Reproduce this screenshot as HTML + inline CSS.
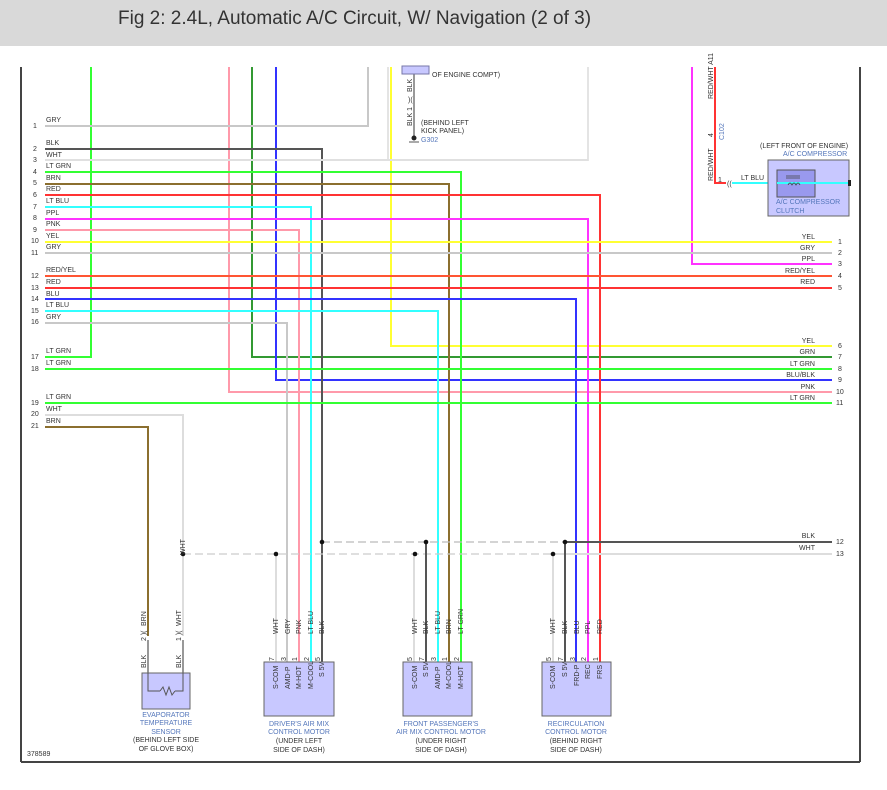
<!DOCTYPE html>
<html><head><meta charset="utf-8"><style>
html,body{margin:0;padding:0;background:#fff;width:887px;height:790px;overflow:hidden}
.hdr{position:absolute;left:0;top:0;width:887px;height:46px;background:#d9d9d9}
.hdr span{position:absolute;left:118px;top:8px;font:19px "Liberation Sans",sans-serif;color:#333}
svg{position:absolute;left:0;top:0}
text{font-family:"Liberation Sans",sans-serif;font-size:7px;fill:#333}
.b{fill:#5577bb}
</style></head><body>
<div class="hdr"><span>Fig 2: 2.4L, Automatic A/C Circuit, W/ Navigation (2 of 3)</span></div>
<svg width="887" height="790" viewBox="0 0 887 790">
<g fill="none" stroke-width="2">
<line x1="21" y1="67" x2="21" y2="762" stroke="#444" stroke-width="2"/>
<line x1="860" y1="67" x2="860" y2="762" stroke="#444" stroke-width="2"/>
<line x1="21" y1="762" x2="860" y2="762" stroke="#444" stroke-width="2"/>
<polyline points="388,67 388,160 588,160 588,67" stroke="#e4e4e4"/>
<!-- vertical from top -->
<polyline points="91,67 91,357 45,357" stroke="#33ff33"/>
<polyline points="229,67 229,392 832,392" stroke="#ff99aa"/>
<polyline points="252,67 252,357 832,357" stroke="#339933"/>
<polyline points="276,67 276,380 832,380" stroke="#3333ff"/>
<polyline points="391,67 391,346 832,346" stroke="#ffff33"/>
<polyline points="45,126 368,126 368,67" stroke="#c8c8c8"/>
<polyline points="692,67 692,264 832,264" stroke="#ff33ff"/>
<!-- left rows -->
<polyline points="45,149 322,149 322,662" stroke="#555"/>
<polyline points="45,160 588,160" stroke="#e0e0e0"/>
<polyline points="45,172 461,172 461,662" stroke="#33ff33"/>
<polyline points="45,184 449,184 449,662" stroke="#8b6f2f"/>
<polyline points="45,195 600,195 600,662" stroke="#ff3333"/>
<polyline points="45,207 311,207 311,662" stroke="#33ffff"/>
<polyline points="45,219 588,219 588,662" stroke="#ff33ff"/>
<polyline points="45,230 299,230 299,662" stroke="#ff99aa"/>
<line x1="45" y1="242" x2="832" y2="242" stroke="#ffff33"/>
<line x1="45" y1="253" x2="832" y2="253" stroke="#c8c8c8"/>
<line x1="45" y1="276" x2="832" y2="276" stroke="#ff5533"/>
<line x1="45" y1="288" x2="832" y2="288" stroke="#ff3333"/>
<polyline points="45,299 576,299 576,662" stroke="#3333ff"/>
<polyline points="45,311 438,311 438,662" stroke="#33ffff"/>
<polyline points="45,323 287,323 287,662" stroke="#c8c8c8"/>
<line x1="45" y1="369" x2="832" y2="369" stroke="#33ff33"/>
<line x1="45" y1="403" x2="832" y2="403" stroke="#33ff33"/>
<polyline points="45,415 183,415 183,636" stroke="#dddddd"/>
<polyline points="45,427 148,427 148,636" stroke="#8b6f2f"/>
<!-- bottom buses -->
<line x1="322" y1="542" x2="565" y2="542" stroke="#bbb" stroke-width="1.2" stroke-dasharray="8,4"/>
<line x1="565" y1="542" x2="832" y2="542" stroke="#555"/>
<line x1="183" y1="554" x2="553" y2="554" stroke="#ccc" stroke-width="1.2" stroke-dasharray="8,4"/>
<line x1="553" y1="554" x2="832" y2="554" stroke="#ddd"/>
<line x1="276" y1="554" x2="276" y2="662" stroke="#ddd"/>
<line x1="414" y1="554" x2="414" y2="662" stroke="#ddd"/>
<line x1="426" y1="542" x2="426" y2="662" stroke="#555"/>
<line x1="553" y1="554" x2="553" y2="662" stroke="#ddd"/>
<line x1="565" y1="542" x2="565" y2="662" stroke="#555"/>
<!-- evap sensor BLK -->
<polyline points="148,640 148,691 160,691" stroke="#555" stroke-width="1.2"/>
<polyline points="183,640 183,691 175,691" stroke="#555" stroke-width="1.2"/>
<polyline points="160,691 163,687 166,695 169,687 172,695 175,691" stroke="#555" stroke-width="1"/>
<!-- ground G302 -->
<line x1="414" y1="74" x2="414" y2="140" stroke="#555" stroke-width="1.2"/>
<!-- compressor -->
<polyline points="715,67 715,183 726,183" stroke="#ff3333"/>
<line x1="732" y1="183" x2="850" y2="183" stroke="#33ffff"/>
</g>
<rect x="402" y="66" width="27" height="8" fill="#c8c8ff" stroke="#7777aa"/>
<text x="432" y="77">OF ENGINE COMPT)</text>
<text transform="translate(412,92) rotate(-90)">BLK</text>
<text transform="translate(412,126) rotate(-90)">BLK 1</text>
<text x="421" y="125">(BEHIND LEFT</text>
<text x="421" y="133">KICK PANEL)</text>
<circle cx="414" cy="138" r="2.5" fill="#222"/>
<line x1="409" y1="142" x2="419" y2="142" stroke="#555"/>
<text x="421" y="142" class="b">G302</text>
<text x="408" y="102" fill="#555">)(</text>
<!-- compressor -->
<text transform="translate(713,99) rotate(-90)">RED/WHT  A11</text>
<text transform="translate(713,181) rotate(-90)">RED/WHT</text>
<text transform="translate(713,137) rotate(-90)">4</text>
<text transform="translate(724,140) rotate(-90)" class="b">C102</text>
<text x="718" y="182">1</text>
<text x="727" y="186" fill="#555">((</text>
<text x="741" y="180">LT BLU</text>
<text x="822" y="180">LT BLU</text>
<text x="760" y="148">(LEFT FRONT OF ENGINE)</text>
<text x="783" y="156" class="b">A/C COMPRESSOR</text>
<rect x="768" y="160" width="81" height="56" fill="#c8c8ff" stroke="#666"/>
<rect x="777" y="170" width="38" height="27" fill="#9999ee" stroke="#555"/>
<line x1="777" y1="183" x2="815" y2="183" stroke="#33ffff" stroke-width="2"/>
<line x1="815" y1="183" x2="849" y2="183" stroke="#33ffff" stroke-width="2"/>
<path d="M786,178 h14 M786,176 h14 M788,185 q2,-4 4,0 q2,-4 4,0 q2,-4 4,0" stroke="#444" fill="none" stroke-width="0.8"/>
<text x="776" y="204" class="b">A/C COMPRESSOR</text>
<text x="776" y="213" class="b">CLUTCH</text>
<rect x="848" y="180" width="3" height="6" fill="#222"/>
<!-- left labels -->
<g>
<text x="33" y="128">1</text><text x="46" y="122">GRY</text>
<text x="33" y="151">2</text><text x="46" y="145">BLK</text>
<text x="33" y="162">3</text><text x="46" y="157">WHT</text>
<text x="33" y="174">4</text><text x="46" y="168">LT GRN</text>
<text x="33" y="185">5</text><text x="46" y="180">BRN</text>
<text x="33" y="197">6</text><text x="46" y="191">RED</text>
<text x="33" y="209">7</text><text x="46" y="203">LT BLU</text>
<text x="33" y="220">8</text><text x="46" y="215">PPL</text>
<text x="33" y="232">9</text><text x="46" y="226">PNK</text>
<text x="31" y="243">10</text><text x="46" y="238">YEL</text>
<text x="31" y="255">11</text><text x="46" y="249">GRY</text>
<text x="31" y="278">12</text><text x="46" y="272">RED/YEL</text>
<text x="31" y="290">13</text><text x="46" y="284">RED</text>
<text x="31" y="301">14</text><text x="46" y="296">BLU</text>
<text x="31" y="313">15</text><text x="46" y="307">LT BLU</text>
<text x="31" y="324">16</text><text x="46" y="319">GRY</text>
<text x="31" y="359">17</text><text x="46" y="353">LT GRN</text>
<text x="31" y="371">18</text><text x="46" y="365">LT GRN</text>
<text x="31" y="405">19</text><text x="46" y="399">LT GRN</text>
<text x="31" y="416">20</text><text x="46" y="411">WHT</text>
<text x="31" y="428">21</text><text x="46" y="423">BRN</text>
</g>
<!-- right labels -->
<g text-anchor="end">
<text x="815" y="239">YEL</text><text x="815" y="250">GRY</text><text x="815" y="261">PPL</text>
<text x="815" y="273">RED/YEL</text><text x="815" y="284">RED</text>
<text x="815" y="343">YEL</text><text x="815" y="354">GRN</text><text x="815" y="366">LT GRN</text>
<text x="815" y="377">BLU/BLK</text><text x="815" y="389">PNK</text><text x="815" y="400">LT GRN</text>
<text x="815" y="538">BLK</text><text x="815" y="550">WHT</text>
</g>
<g>
<text x="838" y="244">1</text><text x="838" y="255">2</text><text x="838" y="266">3</text>
<text x="838" y="278">4</text><text x="838" y="290">5</text><text x="838" y="348">6</text>
<text x="838" y="359">7</text><text x="838" y="371">8</text><text x="838" y="382">9</text>
<text x="836" y="394">10</text><text x="836" y="405">11</text>
<text x="836" y="544">12</text><text x="836" y="556">13</text>
</g>
<!-- dots -->
<g fill="#111">
<circle cx="183" cy="554" r="2.3"/><circle cx="276" cy="554" r="2.3"/><circle cx="322" cy="542" r="2.3"/>
<circle cx="426" cy="542" r="2.3"/><circle cx="415" cy="554" r="2.3"/><circle cx="565" cy="542" r="2.3"/><circle cx="553" cy="554" r="2.3"/>
</g>
<text transform="translate(185,555) rotate(-90)">WHT</text>
<!-- evap sensor -->
<text transform="translate(146,626) rotate(-90)">BRN</text>
<text transform="translate(146,641) rotate(-90)">2 )(</text>
<text transform="translate(181,626) rotate(-90)">WHT</text>
<text transform="translate(181,641) rotate(-90)">1 )(</text>
<text transform="translate(146,668) rotate(-90)">BLK</text>
<text transform="translate(181,668) rotate(-90)">BLK</text>
<rect x="142" y="673" width="48" height="36" fill="#c8c8ff" stroke="#666"/>
<polyline points="148,673 148,691 160,691" stroke="#555" fill="none"/>
<polyline points="183,673 183,691 175,691" stroke="#555" fill="none"/>
<polyline points="160,691 163,687 166,695 169,687 172,695 175,691" stroke="#555" fill="none"/>
<g text-anchor="middle" class="b">
<text x="166" y="717" class="b">EVAPORATOR</text><text x="166" y="725" class="b">TEMPERATURE</text><text x="166" y="734" class="b">SENSOR</text>
</g>
<g text-anchor="middle"><text x="166" y="742">(BEHIND LEFT SIDE</text><text x="166" y="751">OF GLOVE BOX)</text></g>
<!-- motors -->
<rect x="264" y="662" width="70" height="54" fill="#c8c8ff" stroke="#666"/>
<rect x="403" y="662" width="69" height="54" fill="#c8c8ff" stroke="#666"/>
<rect x="542" y="662" width="69" height="54" fill="#c8c8ff" stroke="#666"/>
<g>
<text transform="translate(278,634) rotate(-90)">WHT</text><text transform="translate(290,634) rotate(-90)">GRY</text>
<text transform="translate(301,634) rotate(-90)">PNK</text><text transform="translate(313,634) rotate(-90)">LT BLU</text>
<text transform="translate(324,634) rotate(-90)">BLK</text>
<text transform="translate(417,634) rotate(-90)">WHT</text><text transform="translate(428,634) rotate(-90)">BLK</text>
<text transform="translate(440,634) rotate(-90)">LT BLU</text><text transform="translate(451,634) rotate(-90)">BRN</text>
<text transform="translate(463,634) rotate(-90)">LT GRN</text>
<text transform="translate(555,634) rotate(-90)">WHT</text><text transform="translate(567,634) rotate(-90)">BLK</text>
<text transform="translate(579,634) rotate(-90)">BLU</text><text transform="translate(590,634) rotate(-90)">PPL</text>
<text transform="translate(602,634) rotate(-90)">RED</text>
<text transform="translate(274,661) rotate(-90)">7</text><text transform="translate(286,661) rotate(-90)">3</text>
<text transform="translate(297,661) rotate(-90)">1</text><text transform="translate(309,661) rotate(-90)">2</text>
<text transform="translate(320,661) rotate(-90)">5</text>
<text transform="translate(412,661) rotate(-90)">5</text><text transform="translate(424,661) rotate(-90)">7</text>
<text transform="translate(436,661) rotate(-90)">3</text><text transform="translate(447,661) rotate(-90)">1</text>
<text transform="translate(459,661) rotate(-90)">2</text>
<text transform="translate(551,661) rotate(-90)">5</text><text transform="translate(563,661) rotate(-90)">7</text>
<text transform="translate(575,661) rotate(-90)">3</text><text transform="translate(586,661) rotate(-90)">2</text>
<text transform="translate(598,661) rotate(-90)">1</text>
<text transform="translate(278,689) rotate(-90)">S-COM</text><text transform="translate(290,689) rotate(-90)">AMD-P</text>
<text transform="translate(301,689) rotate(-90)">M-HOT</text><text transform="translate(313,689) rotate(-90)">M-COOL</text>
<text transform="translate(324,677) rotate(-90)">S 5V</text>
<text transform="translate(417,689) rotate(-90)">S-COM</text><text transform="translate(428,677) rotate(-90)">S 5V</text>
<text transform="translate(440,689) rotate(-90)">AMD-P</text><text transform="translate(451,689) rotate(-90)">M-COOL</text>
<text transform="translate(463,689) rotate(-90)">M-HOT</text>
<text transform="translate(555,689) rotate(-90)">S-COM</text><text transform="translate(567,677) rotate(-90)">S 5V</text>
<text transform="translate(579,686) rotate(-90)">FRD-P</text><text transform="translate(590,679) rotate(-90)">REC</text>
<text transform="translate(602,679) rotate(-90)">FRS</text>
</g>
<g text-anchor="middle">
<text x="299" y="726" class="b">DRIVER'S AIR MIX</text><text x="299" y="734" class="b">CONTROL MOTOR</text>
<text x="299" y="743">(UNDER LEFT</text><text x="299" y="752">SIDE OF DASH)</text>
<text x="441" y="726" class="b">FRONT PASSENGER'S</text><text x="441" y="734" class="b">AIR MIX CONTROL MOTOR</text>
<text x="441" y="743">(UNDER RIGHT</text><text x="441" y="752">SIDE OF DASH)</text>
<text x="576" y="726" class="b">RECIRCULATION</text><text x="576" y="734" class="b">CONTROL MOTOR</text>
<text x="576" y="743">(BEHIND RIGHT</text><text x="576" y="752">SIDE OF DASH)</text>
</g>
<text x="27" y="756">378589</text>
</svg>
</body></html>
